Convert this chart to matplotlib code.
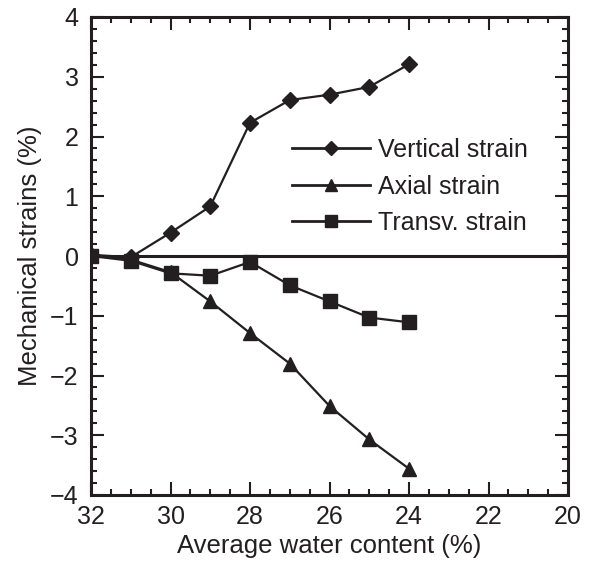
import matplotlib
matplotlib.use("Agg")
import matplotlib.pyplot as plt
from matplotlib.ticker import MultipleLocator

plt.rcParams['font.family'] = ['Liberation Sans', 'DejaVu Sans']

water = [32, 31, 30, 29, 28, 27, 26, 25, 24]
vertical = [0.02, -0.02, 0.39, 0.83, 2.23, 2.61, 2.70, 2.83, 3.21]
axial = [0.02, -0.06, -0.27, -0.76, -1.29, -1.80, -2.51, -3.07, -3.56]
transv = [0.0, -0.08, -0.29, -0.33, -0.10, -0.49, -0.76, -1.03, -1.11]
labels = ['Vertical strain', 'Axial strain', 'Transv. strain']

TXT = '#231f20'
fig = plt.figure(figsize=(5.96, 5.63), dpi=100)
ax = fig.add_axes([91/596, 1-495/563, (568-91)/596, (495-17)/563])

ax.axhline(0, color=TXT, lw=2.2, zorder=1)
ax.plot(water, vertical, '-D', color=TXT, lw=1.6, ms=8, label=labels[0], zorder=3)
ax.plot(water, axial, '-^', color=TXT, lw=1.6, ms=9.5, label=labels[1], zorder=3)
ax.plot(water, transv, '-s', color=TXT, lw=1.6, ms=9.5, label=labels[2], zorder=4)

ax.set_xlim(32, 20)
ax.set_ylim(-4, 4)
ax.xaxis.set_major_locator(MultipleLocator(2))
ax.xaxis.set_minor_locator(MultipleLocator(0.5))
ax.yaxis.set_major_locator(MultipleLocator(1))
ax.yaxis.set_minor_locator(MultipleLocator(0.2))
ax.tick_params(which='both', direction='in', top=True, right=True, color=TXT,
               width=1.5, labelsize=18, labelcolor=TXT)
ax.tick_params(which='major', length=9.5)
ax.tick_params(which='minor', length=4.5)
ax.tick_params(axis='x', which='major', pad=7.5)
ax.tick_params(axis='y', which='major', pad=9)
for s in ax.spines.values():
    s.set_linewidth(2.2)
    s.set_color(TXT)

ax.set_xlabel('Average water content (%)', fontsize=18.5, color=TXT, labelpad=3)
ax.set_ylabel('Mechanical strains (%)', fontsize=18.5, color=TXT, labelpad=6)

leg = ax.legend(loc='upper left', bbox_to_anchor=(292/596, 1-138/563),
                bbox_transform=fig.transFigure, frameon=False, fontsize=18,
                handlelength=3.1, handletextpad=0.35, labelspacing=0.5,
                borderpad=0, borderaxespad=0, markerscale=0.85)
for t in leg.get_texts():
    t.set_color(TXT)
for h in leg.get_lines():
    h.set_linewidth(2.0)

fig.savefig('out.png', dpi=100)
